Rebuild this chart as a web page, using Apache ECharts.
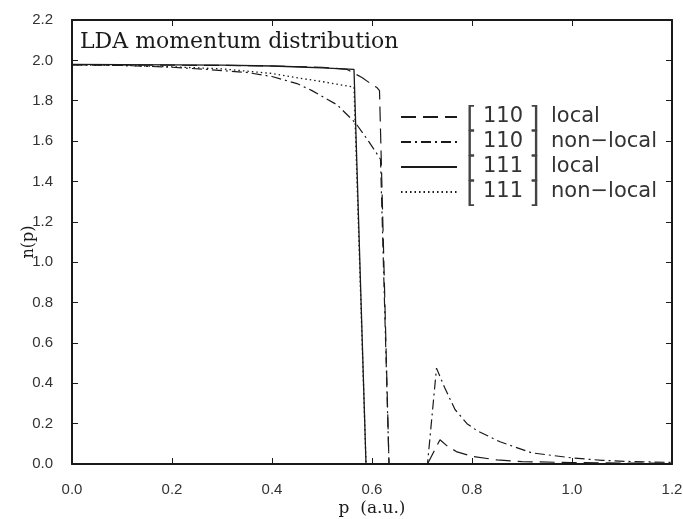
<!DOCTYPE html>
<html>
<head>
<meta charset="utf-8">
<script src="https://cdn.jsdelivr.net/npm/echarts@6/dist/echarts.min.js"></script>
<style>html,body{margin:0;padding:0;background:#fff}#c{width:683px;height:519px}</style>
</head>
<body>
<div id="c"></div>
<script>
// ---- data ----
const seriesNames = ['[110] local', '[110] non\u2212local', '[111] local', '[111] non\u2212local'];

const p110Local = [0, 0.1, 0.2, 0.3, 0.4, 0.5, 0.55, 0.58, 0.6, 0.61, 0.615, 0.634, 0.711, 0.736, 0.75, 0.77, 0.8, 0.85, 0.9, 1.0, 1.1, 1.2];
const n110Local = [1.978, 1.977, 1.976, 1.975, 1.972, 1.966, 1.955, 1.915, 1.88, 1.865, 1.85, 0, 0, 0.12, 0.09, 0.06, 0.038, 0.02, 0.012, 0.007, 0.005, 0.003];

const p110NonLocal = [0, 0.1, 0.2, 0.27, 0.35, 0.4, 0.45, 0.48, 0.53, 0.567, 0.593, 0.617, 0.634, 0.711, 0.729, 0.745, 0.766, 0.79, 0.81, 0.856, 0.92, 1.0, 1.06, 1.12, 1.2];
const n110NonLocal = [1.978, 1.975, 1.966, 1.955, 1.94, 1.92, 1.885, 1.85, 1.78, 1.69, 1.6, 1.51, 0, 0, 0.475, 0.38, 0.27, 0.2, 0.165, 0.11, 0.055, 0.03, 0.018, 0.012, 0.008];

const p111Local = [0, 0.1, 0.2, 0.3, 0.4, 0.457, 0.5, 0.564, 0.568, 0.588, 1.2];
const n111Local = [1.98, 1.979, 1.978, 1.976, 1.972, 1.967, 1.963, 1.955, 1.952, 0, 0];

const p111NonLocal = [0, 0.1, 0.2, 0.3, 0.4, 0.444, 0.5, 0.53, 0.564, 0.568, 0.588, 1.2];
const n111NonLocal = [1.978, 1.975, 1.968, 1.958, 1.935, 1.916, 1.895, 1.882, 1.867, 1.86, 0, 0];

const xTicks = { min: 0, max: 1.2, interval: 0.2 };
const yTicks = { min: 0, max: 2.2, interval: 0.2 };

const titleText = 'LDA momentum distribution';
const xName = 'p  (a.u.)';
const yName = 'n(p)';

// ---- chart ----
const zip = (xs, ys) => xs.map((x, i) => [x, ys[i]]);
const ink = '#1a1a1a';
const labelFont = 'Liberation Sans';
const serif = 'DejaVu Serif';
const legendFont = 'DejaVu Sans';

const axisCommon = {
  type: 'value',
  splitLine: { show: false },
  axisLine: { show: true, onZero: false, lineStyle: { color: ink, width: 2 } },
  axisTick: { show: true, inside: true, length: 6, lineStyle: { color: ink, width: 1 } },
};

const lineStyles = [
  { type: [15, 7], width: 1.2 },
  { type: [10, 4, 2, 4], width: 1.2 },
  { type: 'solid', width: 1.3 },
  { type: [1.5, 3], width: 1.3 },
];
const dataSets = [zip(p110Local, n110Local), zip(p110NonLocal, n110NonLocal), zip(p111Local, n111Local), zip(p111NonLocal, n111NonLocal)];

const chart = echarts.init(document.getElementById('c'), null, { renderer: 'canvas' });
chart.setOption({
  backgroundColor: '#fff',
  animation: false,
  title: {
    text: titleText, left: 80, top: 31, padding: 0,
    textStyle: { fontFamily: serif, fontSize: 22, fontWeight: 'normal', color: ink }
  },
  legend: {
    orient: 'vertical', left: 400, top: 103, padding: 0,
    itemWidth: 56, itemHeight: 14, itemGap: -3,
    itemStyle: { color: 'rgba(0,0,0,0)', borderColor: 'rgba(0,0,0,0)', borderWidth: 0 },
    data: seriesNames,
    formatter: name => {
      const m = name.match(/^\[(\d+)\]\s(.*)$/);
      return '{sp|}{br|[}{num|' + m[1] + '}{br|]}{gap|}' + m[2];
    },
    textStyle: {
      fontFamily: legendFont, fontSize: 21, color: '#333', lineHeight: 18,
      rich: {
        sp: { width: 4, lineHeight: 18 },
        br: { fontSize: 28, fontFamily: 'Liberation Sans', color: '#444', lineHeight: 18, width: 9, align: 'center' },
        num: { fontSize: 21, fontFamily: legendFont, color: '#333', width: 56, align: 'center', lineHeight: 18 },
        gap: { width: 11, lineHeight: 18 }
      }
    }
  },
  grid: { left: 72, right: 11, top: 20, bottom: 55, outerBoundsMode: 'none', containLabel: false },
  xAxis: [
    Object.assign({}, axisCommon, xTicks, {
      position: 'bottom', name: xName, nameLocation: 'middle', nameGap: 36, nameMoveOverlap: false,
      nameTextStyle: { fontFamily: serif, fontSize: 17, color: ink },
      axisLabel: { margin: 18, fontFamily: labelFont, fontSize: 15, color: '#333', formatter: v => v.toFixed(1) }
    }),
    Object.assign({}, axisCommon, xTicks, { position: 'top', axisLabel: { show: false } })
  ],
  yAxis: [
    Object.assign({}, axisCommon, yTicks, {
      position: 'left', name: yName, nameLocation: 'middle', nameGap: 35, nameRotate: 90, nameMoveOverlap: false,
      nameTextStyle: { fontFamily: serif, fontSize: 16, color: ink },
      axisLabel: { margin: 19, fontFamily: labelFont, fontSize: 15, color: '#333', formatter: v => v.toFixed(1) }
    }),
    Object.assign({}, axisCommon, yTicks, { position: 'right', axisLabel: { show: false } })
  ],
  series: seriesNames.map((name, i) => ({
    name, type: 'line', xAxisIndex: 0, yAxisIndex: 0,
    data: dataSets[i], symbol: 'none', showSymbol: false,
    lineStyle: Object.assign({ color: ink }, lineStyles[i]),
    itemStyle: { color: ink },
    z: 3
  }))
});
</script>
</body>
</html>
